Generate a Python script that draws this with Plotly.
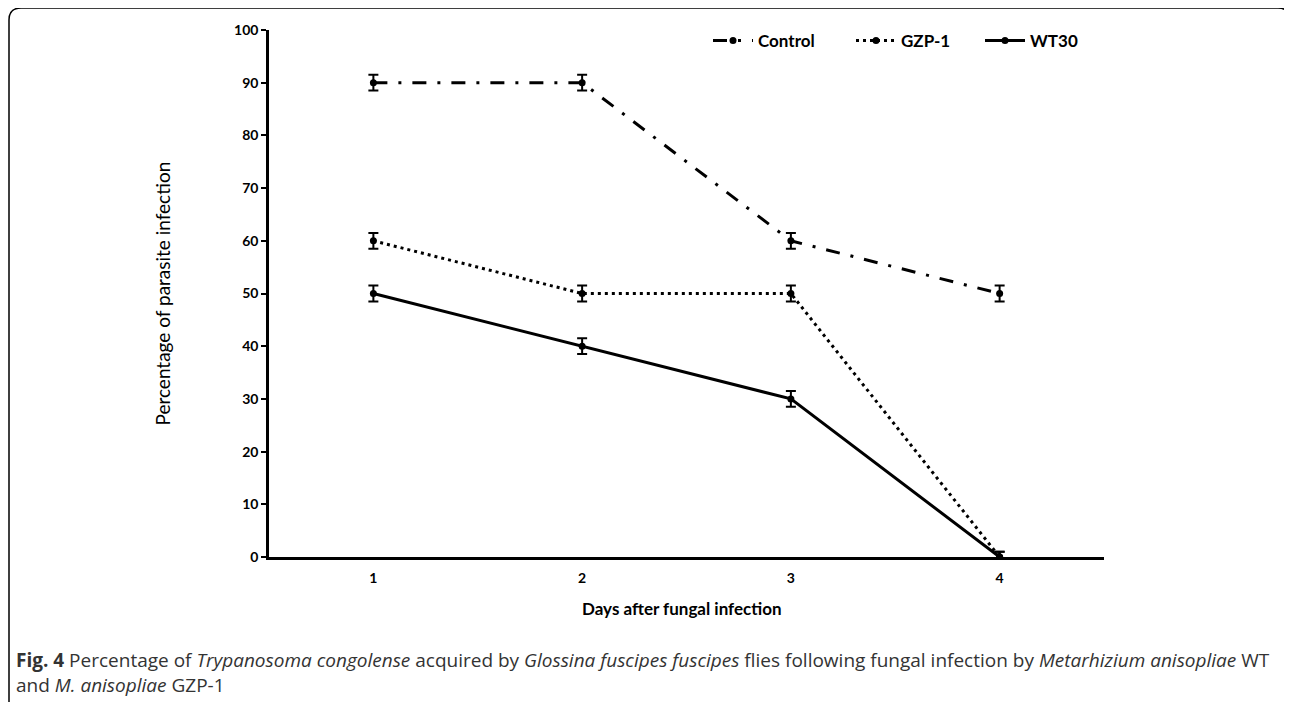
import plotly.graph_objects as go

days = ["1", "2", "3", "4"]
control = [90, 90, 60, 50]
gzp1 = [60, 50, 50, 0]
wt30 = [50, 40, 30, 0]
err_control = [1.5, 1.5, 1.5, 1.5]
err_gzp1 = [1.5, 1.5, 1.5, 1.0]
err_wt30 = [1.5, 1.5, 1.5, 1.0]
y_ticks = [0, 10, 20, 30, 40, 50, 60, 70, 80, 90, 100]

W, H = 1292, 702
OFF = 8  # default page body margin
L, R, T, B = 269, 1104, 30, 557  # plot area in page pixels

def px(x):
    return (x - L) / (R - L)

def py(y):
    return (B - y) / (B - T)

FONT = "Lato"

fig = go.Figure()
series = [
    ("Control", control, err_control, "14px,11px,3px,11px", "legend", 708),
    ("GZP-1", gzp1, err_gzp1, "3px,4px", "legend2", 851),
    ("WT30", wt30, err_wt30, "solid", "legend3", 980),
]
legend_layouts = {}
for name, vals, err, dash, leg, lx in series:
    fig.add_trace(go.Scatter(
        x=[1, 2, 3, 4], y=vals, name=name, mode="lines+markers", legend=leg,
        line=dict(color="black", width=3, dash=dash),
        marker=dict(symbol="circle", size=7, color="black"),
        error_y=dict(type="data", array=err, visible=True, color="black",
                     thickness=2, width=5),
    ))
    legend_layouts[leg] = dict(
        orientation="h", x=px(lx), y=py(41), xanchor="left", yanchor="middle",
        font=dict(family=FONT, size=17, color="black", weight="bold"),
        itemwidth=40, bgcolor="rgba(0,0,0,0)", borderwidth=0)

fig.update_layout(
    width=W - OFF, height=H - OFF,
    margin=dict(l=L - OFF, r=W - R, t=T - OFF, b=H - B, pad=0),
    paper_bgcolor="white", plot_bgcolor="white",
    showlegend=True,
    xaxis=dict(range=[0.5, 4.5], tickvals=[1, 2, 3, 4], ticktext=days,
               showline=True, linecolor="black", linewidth=2.5, showgrid=False,
               zeroline=False, ticks="", ticklabelstandoff=6,
               tickfont=dict(family=FONT, size=14, color="black", weight="bold")),
    yaxis=dict(range=[0, 100], tickvals=y_ticks, showline=True, linecolor="black",
               linewidth=2.5, showgrid=False, zeroline=False, ticks="outside",
               ticklen=5, tickwidth=2, tickcolor="black",
               tickfont=dict(family=FONT, size=14, color="black", weight="bold")),
    font=dict(family=FONT, color="black"),
    **legend_layouts,
)

fig.add_annotation(text="Days after fungal infection", x=px(682), y=py(621),
                   xref="paper", yref="paper", showarrow=False,
                   font=dict(family=FONT, size=17, color="black", weight="bold"))
fig.add_annotation(text="Percentage of parasite infection", x=px(148), y=py(294),
                   xref="paper", yref="paper", showarrow=False, textangle=-90,
                   font=dict(family=FONT, size=19, color="black"))

cap1 = ("<b>Fig. 4</b> Percentage of <i>Trypanosoma congolense</i> acquired by "
        "<i>Glossina fuscipes fuscipes</i> flies following fungal infection by "
        "<i>Metarhizium anisopliae</i> WT")
cap2 = "and <i>M. anisopliae</i> GZP-1"
for txt, yy in [(cap1, 660), (cap2, 685)]:
    fig.add_annotation(text=txt, x=px(14), y=py(yy), xref="paper", yref="paper",
                       xanchor="left", yanchor="middle", showarrow=False, align="left",
                       font=dict(family="Open Sans", size=19, color="#333333"))

# rounded border around figure + caption
x0, x1, y0, y1 = 9, 1290, 8, 705
r = 12
path = (f"M {px(x0)},{py(y1)} L {px(x0)},{py(y0 + r)} "
        f"Q {px(x0)},{py(y0)} {px(x0 + r)},{py(y0)} "
        f"L {px(x1 - r)},{py(y0)} Q {px(x1)},{py(y0)} {px(x1)},{py(y0 + r)} "
        f"L {px(x1)},{py(y1)}")
fig.add_shape(type="path", path=path, xref="paper", yref="paper",
              line=dict(color="black", width=1.5), layer="above")

fig.write_html("out.html")
